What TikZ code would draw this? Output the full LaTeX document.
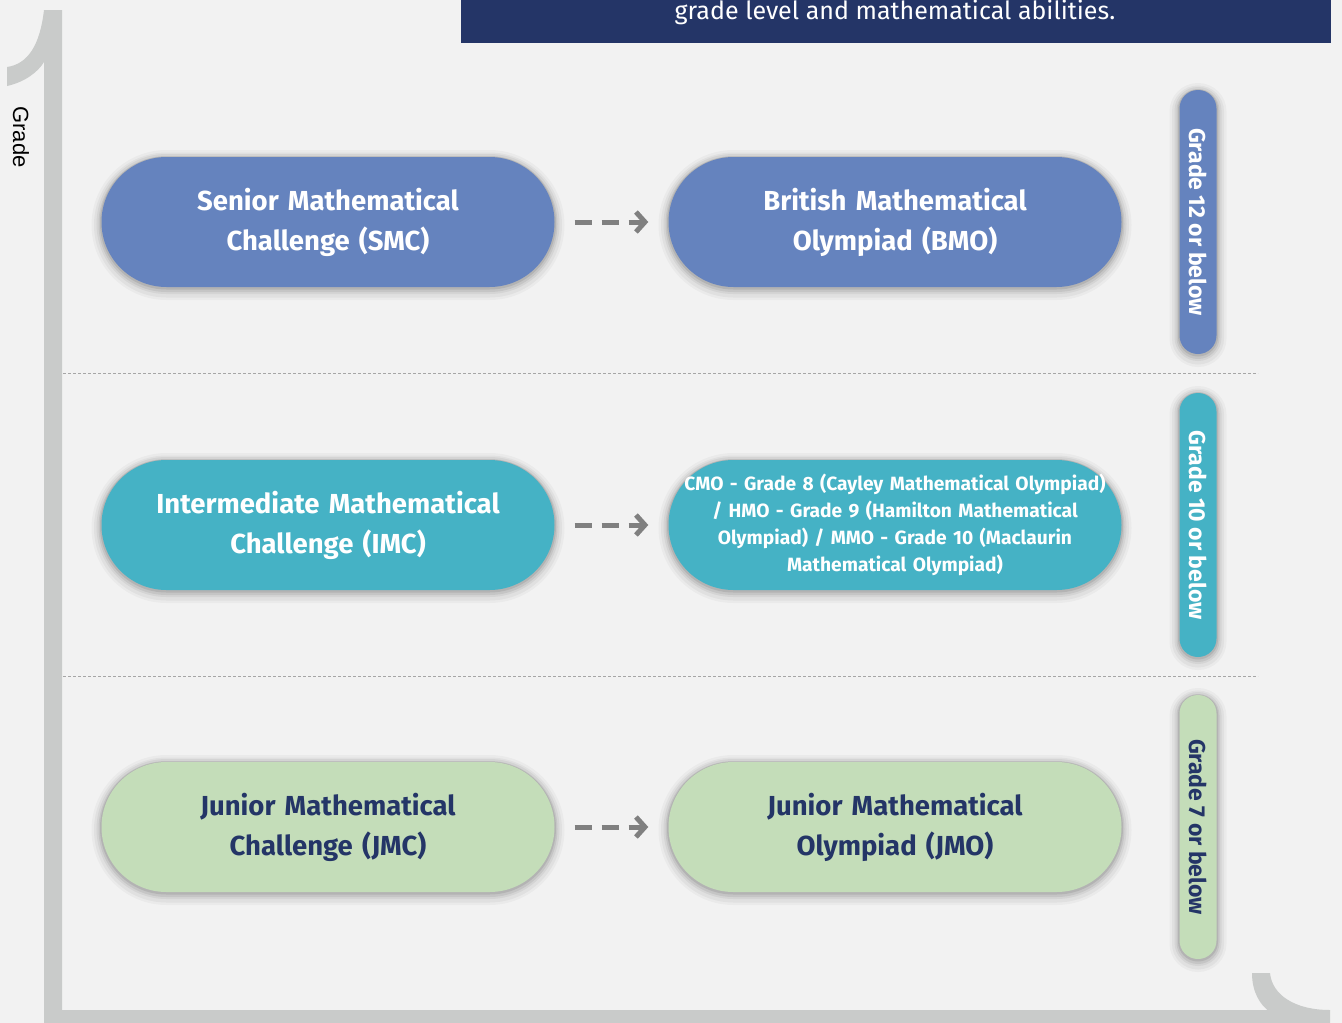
\documentclass[tikz,border=0pt]{standalone}
\usepackage{fontspec}
\setmainfont{Fira Sans}
\newfontfamily\labelfont{Liberation Sans}
\usepackage{xcolor}
\usetikzlibrary{arrows.meta}
\usetikzlibrary{positioning}

\definecolor{pagebg}{HTML}{F2F2F2}
\definecolor{framegray}{HTML}{C9CBCA}
\definecolor{navy}{HTML}{243567}
\definecolor{smcblue}{HTML}{6583BE}
\definecolor{imcteal}{HTML}{45B2C5}
\definecolor{jmcgreen}{HTML}{C4DDB9}
\definecolor{arrowgray}{HTML}{808080}

\begin{document}
\begin{tikzpicture}[x=1pt,y=-1pt,
    halo/.style={preaction={draw=black,opacity=.03,line width=20pt,transform canvas={yshift=-3pt}},
                 preaction={draw=black,opacity=.04,line width=15pt,transform canvas={yshift=-3pt}},
                 preaction={draw=black,opacity=.05,line width=10pt,transform canvas={yshift=-2pt}},
                 preaction={draw=black,opacity=.07,line width=6pt,transform canvas={yshift=-2pt}},
                 preaction={draw=black,opacity=.09,line width=3pt,transform canvas={yshift=-1pt}}},
    pill/.style={halo,rectangle,rounded corners=65pt,minimum width=453pt,
                 minimum height=130pt,text width=440pt,align=center,
                 font=\fontsize{27.5}{40}\selectfont\bfseries,text=white},
    gradepill/.style={halo,rectangle,rounded corners=18.5pt,rotate=-90,
                 minimum width=264pt,minimum height=37pt,inner sep=0pt,
                 font=\fontsize{23}{26}\selectfont\bfseries,text=white},
    flow/.style={arrowgray,line width=5pt,dash pattern=on 17pt off 10pt,
                 shorten <=20pt,shorten >=20pt,
                 -{Straight Barb[length=9pt,width=20pt,line width=5pt]}},
    rowline/.style={gray!70,thin,dash pattern=on 3pt off 2pt}]
    % page and frame
    \fill[pagebg] (0,0) rectangle (1342,1023);
    \useasboundingbox (0,0) rectangle (1342,1023);
    \fill[framegray] (44,10) -- (62,10) -- (62,1010) -- (1330,1010) -- (1330,1023) -- (44,1023) -- cycle;
    \fill[framegray] (44,10) .. controls (40,45) and (28,64) .. (7,67) -- (7,86)
        .. controls (25,82) and (38,72) .. (44,62) -- cycle;
    \fill[framegray] (1252,973) -- (1270,973) .. controls (1272,995) and (1295,1010) .. (1330,1010)
        -- (1270,1012) .. controls (1260,1005) and (1252,992) .. cycle;
    \node[rotate=-90,font=\labelfont\fontsize{22}{26}\selectfont] (axis) at (21,137) {Grade};

    % title banner
    \fill[navy] (461,0) rectangle (1331,43);
    \node[font=\fontsize{25}{30}\selectfont,text=white] (title) at (895,12) {grade level and mathematical abilities.};

    % row separators
    \draw[rowline] (63,373) -- (1258,373);
    \draw[rowline] (63,676) -- (1258,676);

    % competitions
    \node[pill,fill=smcblue] (smc) at (328,222) {Senior Mathematical\\Challenge (SMC)};
    \node[pill,fill=smcblue] (bmo) at (895,222) {British Mathematical\\Olympiad (BMO)};
    \node[pill,fill=imcteal] (imc) at (328,525) {Intermediate Mathematical\\Challenge (IMC)};
    \node[pill,fill=imcteal,font=\fontsize{19.2}{27}\selectfont\bfseries] (olymp) at (895,525)
        {CMO - Grade 8 (Cayley Mathematical Olympiad)\\/ HMO - Grade 9 (Hamilton Mathematical\\Olympiad) / MMO - Grade 10 (Maclaurin\\Mathematical Olympiad)};
    \node[pill,fill=jmcgreen,text=navy] (jmc) at (328,827) {Junior Mathematical\\Challenge (JMC)};
    \node[pill,fill=jmcgreen,text=navy] (jmo) at (895,827) {Junior Mathematical\\Olympiad (JMO)};

    \draw[flow] (smc) -- (bmo);
    \draw[flow] (imc) -- (olymp);
    \draw[flow] (jmc) -- (jmo);

    % grade bands
    \node[gradepill,fill=smcblue] (g12) at (1198,222) {Grade 12 or below};
    \node[gradepill,fill=imcteal] (g10) at (1198,525) {Grade 10 or below};
    \node[gradepill,fill=jmcgreen,text=navy] (g7) at (1198,827) {Grade 7 or below};
\end{tikzpicture}
\end{document}
